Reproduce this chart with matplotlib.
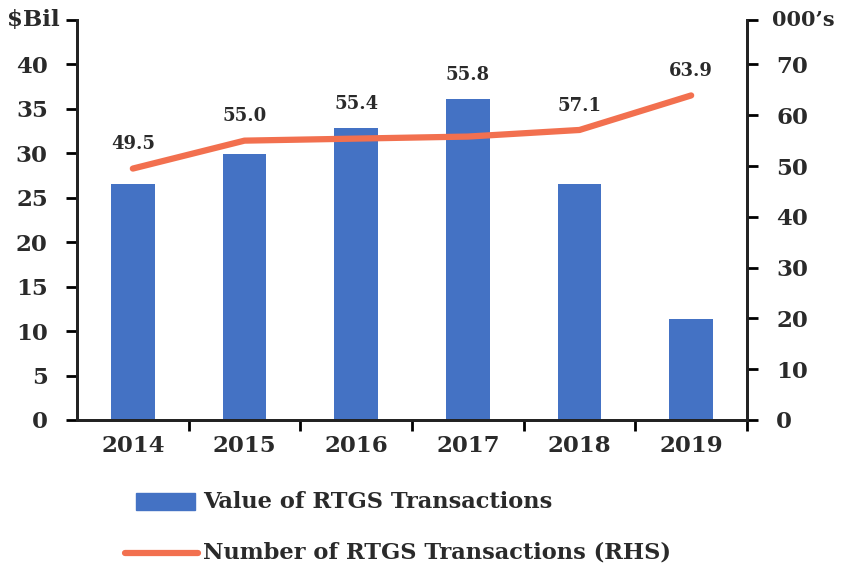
import matplotlib.pyplot as plt
from matplotlib.patches import Rectangle
from matplotlib.lines import Line2D

# Data
years = ["2014", "2015", "2016", "2017", "2018", "2019"]
value_bil = [26.6, 29.9, 32.8, 36.1, 26.5, 11.4]        # $Bil, LHS bars
number_000s = [49.5, 55.0, 55.4, 55.8, 57.1, 63.9]      # 000's, RHS line
number_labels = ["49.5", "55.0", "55.4", "55.8", "57.1", "63.9"]

bar_color = "#4472c4"
line_color = "#f2704f"
text_color = "#2a2a2a"

plt.rcParams['font.family'] = 'DejaVu Serif'
plt.rcParams['font.weight'] = 'bold'

fig = plt.figure(figsize=(8.42, 5.69), dpi=100)
ax = fig.add_axes([77 / 842, 149 / 569, 670 / 842, 400 / 569])
ax2 = ax.twinx()

x = list(range(len(years)))
ax.bar(x, value_bil, width=0.39, color=bar_color, zorder=2)

left_max = 45
right_max = left_max * 70 / 40
ax.set_ylim(0, left_max)
ax2.set_ylim(0, right_max)
ax.set_xlim(-0.5, len(years) - 0.5)

ax2.plot(x, number_000s, color=line_color, lw=4.5, solid_capstyle='round', zorder=3)

# data labels above the higher of bar / line
for i, lab in enumerate(number_labels):
    top = max(value_bil[i] * right_max / left_max, number_000s[i])
    ax2.annotate(lab, (i, top), xytext=(0, 11), textcoords='offset points',
                 ha='center', va='bottom', fontsize=13, fontweight='bold',
                 color=text_color)

# spines
for a in (ax, ax2):
    a.spines['top'].set_visible(False)
    for s in ('left', 'right', 'bottom'):
        a.spines[s].set_linewidth(2)
        a.spines[s].set_color('#222222')

# left axis
ax.set_yticks(list(range(0, 41, 5)) + [left_max])
ax.set_yticklabels([str(v) for v in range(0, 41, 5)] + [""])
ax.tick_params(axis='y', direction='out', length=8, width=2, labelsize=16.5,
               labelcolor=text_color, pad=13)
ax.text(-0.026, left_max, "$Bil", transform=ax.get_yaxis_transform(),
        ha='right', va='center', fontsize=16.5, fontweight='bold', color=text_color)

# right axis
ax2.set_yticks(list(range(0, 71, 10)) + [right_max])
ax2.set_yticklabels([str(v) for v in range(0, 71, 10)] + [""])
ax2.tick_params(axis='y', direction='out', length=8, width=2, labelsize=16.5,
                labelcolor=text_color, pad=13)
ax2.text(1.038, right_max, "000\u2019s", transform=ax2.get_yaxis_transform(),
         ha='left', va='center', fontsize=15, fontweight='bold', color=text_color)

# x axis: ticks at boundaries, labels at centres
ax.set_xticks([i + 0.5 for i in x])
ax.set_xticklabels([""] * len(x))
ax.tick_params(axis='x', which='major', direction='out', length=8, width=2)
ax.set_xticks(x, minor=True)
ax.set_xticklabels(years, minor=True)
ax.tick_params(axis='x', which='minor', length=0, labelsize=16.5,
               labelcolor=text_color, pad=11)

for lab in ax.get_yticklabels() + ax2.get_yticklabels() + ax.get_xticklabels(minor=True):
    lab.set_fontweight('bold')

# legend drawn by hand
fig.patches.append(Rectangle((136 / 842, 1 - 510 / 569), 59 / 842, 17 / 569,
                             transform=fig.transFigure, color=bar_color))
fig.add_artist(Line2D([125 / 842, 198 / 842], [1 - 553 / 569] * 2,
                      transform=fig.transFigure, color=line_color, lw=4.5,
                      solid_capstyle='round'))
fig.text(203 / 842, 1 - 502 / 569, "Value of RTGS Transactions", ha='left',
         va='center', fontsize=16.2, fontweight='bold', color=text_color)
fig.text(203 / 842, 1 - 553 / 569, "Number of RTGS Transactions (RHS)", ha='left',
         va='center', fontsize=16.2, fontweight='bold', color=text_color)

fig.savefig("out.png", dpi=100)
